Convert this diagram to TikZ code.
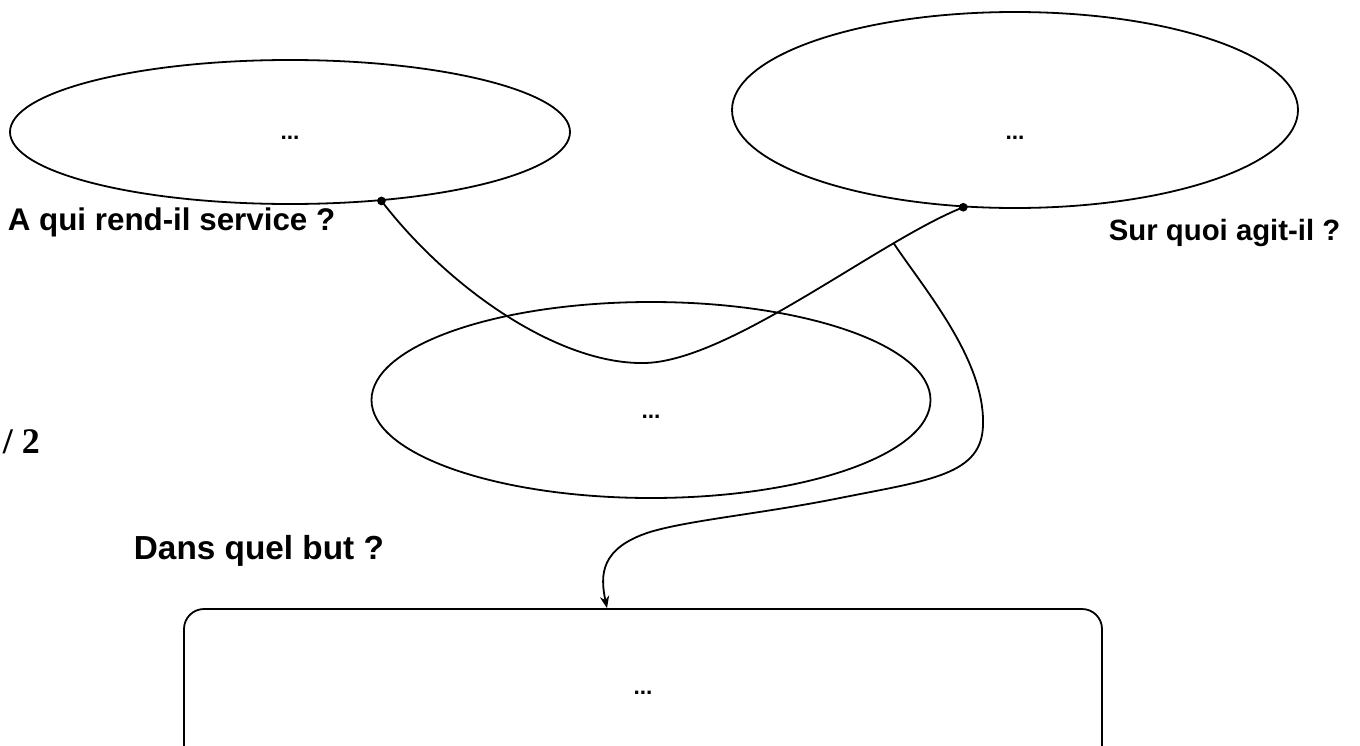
\documentclass[tikz,border=0pt]{standalone}
\usepackage{fontspec}
\setmainfont{Liberation Sans}
\newfontfamily\serifbold{Liberation Serif}
\usetikzlibrary{shapes.geometric,arrows.meta}
\begin{document}
\begin{tikzpicture}[x=0.75pt,y=-0.75pt,
  line width=1.35pt,
  oval/.style={draw,ellipse,inner sep=0pt},
  mainbox/.style={draw,rectangle,rounded corners=15pt,inner sep=0pt},
  dots/.style={font=\fontsize{17}{20}\selectfont\bfseries,anchor=base,inner sep=0pt},
  question/.style={font=\fontsize{22}{27}\selectfont\bfseries,anchor=base west,inner sep=0pt},
  pin/.style={fill,circle,inner sep=0pt,minimum size=6.5pt},
  link/.style={draw,line width=1.35pt}]
\useasboundingbox (0,0) rectangle (1360,746);
\fill[white] (0,0) rectangle (1360,746);
\begin{scope}
\clip (0,0) rectangle (1360,746);
% shapes
\node[oval,minimum width=420pt,minimum height=108pt] (e1) at (290,132) {};
\node[oval,minimum width=424.5pt,minimum height=147pt] (e2) at (1015,110) {};
\node[oval,minimum width=419.25pt,minimum height=147pt] (e3) at (651,400) {};
\node[mainbox,minimum width=688.5pt,minimum height=121.5pt] (box) at (643,690) {};
% contents
\node[dots] (t1) at (290,139) {...};
\node[dots] (t2) at (1015,139) {...};
\node[dots] (t3) at (651,418) {...};
\node[dots] (t4) at (643,694) {...};
% labels
\node[question,font=\fontsize{23.5}{27}\selectfont\bfseries] (q1) at (7,230) {A qui rend-il service ?};
\node[question] (q2) at (1108,240) {Sur quoi agit-il ?};
\node[question,font=\fontsize{25}{29}\selectfont\bfseries] (q3) at (133,559) {Dans quel but ?};
\node[font=\fontsize{27}{32}\serifbold\bfseries,anchor=base west,inner sep=0pt] (q4) at (2,453) {/ 2};
% connectors
\coordinate (p1) at (e1.-37);
\coordinate (p2) at (e2.-118);
\node[pin] (d1) at (p1) {};
\node[pin] (d2) at (p2) {};
\coordinate (tgt) at ([xshift=-27pt]box.north);
\draw[link] (p1) .. controls (450,290) and (560,365) .. (645,363)
  .. controls (730,361) and (880,240) .. (p2) coordinate[pos=0.76] (br);
\draw[link,-{Stealth[length=9pt,width=7pt]}] (br) .. controls (925,290) and (985,360) .. (983,425)
  .. controls (982,475) and (930,480) .. (840,498)
  .. controls (760,514) and (690,520) .. (650,532)
  .. controls (600,548) and (600,575) .. (tgt);
\end{scope}
\end{tikzpicture}
\end{document}
